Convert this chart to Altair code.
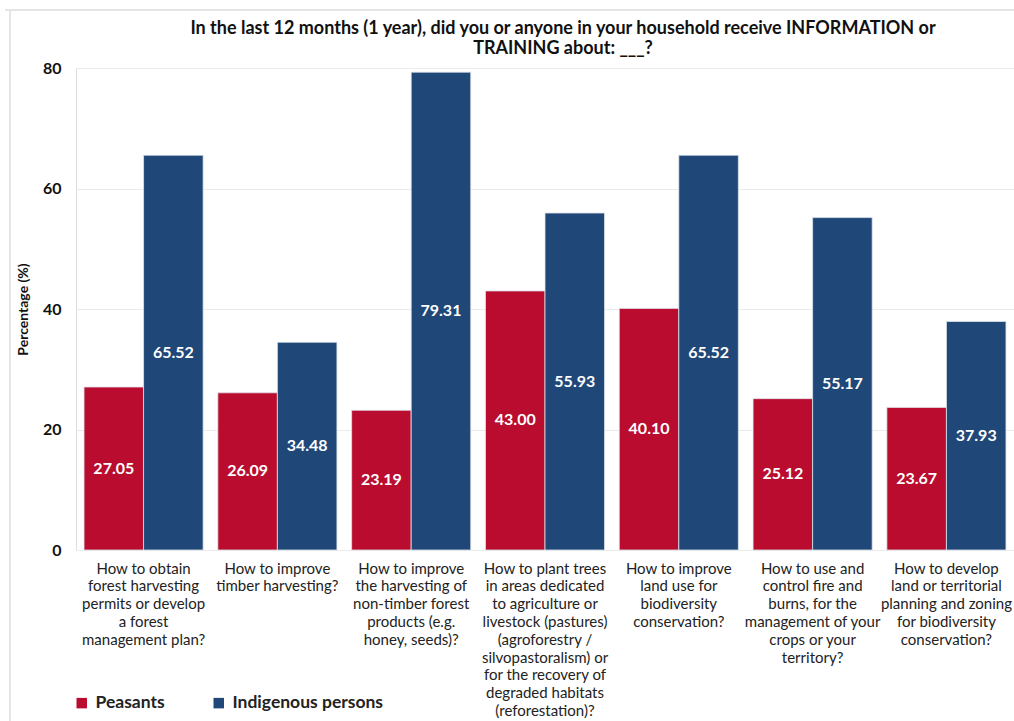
import altair as alt
import pandas as pd

categories = [
    "How to obtain\nforest harvesting\npermits or develop\na forest\nmanagement plan?",
    "How to improve\ntimber harvesting?",
    "How to improve\nthe harvesting of\nnon-timber forest\nproducts (e.g.\nhoney, seeds)?",
    "How to plant trees\nin areas dedicated\nto agriculture or\nlivestock (pastures)\n(agroforestry /\nsilvopastoralism) or\nfor the recovery of\ndegraded habitats\n(reforestation)?",
    "How to improve\nland use for\nbiodiversity\nconservation?",
    "How to use and\ncontrol fire and\nburns, for the\nmanagement of your\ncrops or your\nterritory?",
    "How to develop\nland or territorial\nplanning and zoning\nfor biodiversity\nconservation?",
]
series = ["Peasants", "Indigenous persons"]
peasants = [27.05, 26.09, 23.19, 43.00, 40.10, 25.12, 23.67]
indigenous = [65.52, 34.48, 79.31, 55.93, 65.52, 55.17, 37.93]
colors = ["#BA0C2F", "#1F4778"]

rows = []
for i, c in enumerate(categories):
    rows.append({"cat": c, "series": series[0], "value": peasants[i], "order": 0})
    rows.append({"cat": c, "series": series[1], "value": indigenous[i], "order": 1})
df = pd.DataFrame(rows)

FONT = "Lato"

x = alt.X("cat:N", sort=categories, title=None,
          scale=alt.Scale(paddingInner=0.11, paddingOuter=0.06),
          axis=alt.Axis(labelExpr="split(datum.label, '\\n')", labelAngle=0,
                        labelAlign="center", labelBaseline="top",
                        labelFont=FONT, labelFontSize=15, labelColor="#222222",
                        labelLineHeight=17.8, labelPadding=11,
                        ticks=False, domain=False, labelLimit=200))
y = alt.Y("value:Q", title="Percentage (%)",
          scale=alt.Scale(domain=[0, 80]),
          axis=alt.Axis(values=[0, 20, 40, 60, 80], labelFont=FONT, labelFontSize=16,
                        labelFontWeight="bold", labelColor="#111111",
                        labelPadding=15, ticks=False, domain=False,
                        gridColor="#EBEBEB", gridWidth=1,
                        titleFont=FONT, titleFontSize=14, titleFontWeight="bold",
                        titleColor="#111111", titlePadding=12))
color = alt.Color("series:N", sort=series,
                  scale=alt.Scale(domain=series, range=colors),
                  legend=alt.Legend(title=None, orient="none", legendX=-3, legendY=626,
                                    direction="horizontal", symbolType="square",
                                    symbolSize=110, symbolStrokeWidth=0,
                                    labelFont=FONT, labelFontSize=17.5, labelFontWeight="bold",
                                    labelColor="#222222", columnPadding=45, labelOffset=5))
xoff = alt.XOffset("series:N", sort=series)

bars = alt.Chart(df).mark_bar(stroke="#DDE3EC", strokeWidth=0.8).encode(
    x=x, y=y, color=color, xOffset=xoff
)
labels = alt.Chart(df).transform_calculate(
    mid="datum.value / 2", txt="format(datum.value, '.2f')"
).mark_text(color="white", font=FONT, fontSize=16, fontWeight="bold",
            baseline="middle").encode(
    x=alt.X("cat:N", sort=categories),
    y=alt.Y("mid:Q"),
    xOffset=xoff,
    text="txt:N",
)

frame_top = alt.Chart(df).mark_rule(color="#E4E4E4", strokeWidth=1).encode(
    x=alt.value(-71), x2=alt.value(940), y=alt.value(-58)
)
frame_left = alt.Chart(df).mark_rule(color="#E4E4E4", strokeWidth=1).encode(
    x=alt.value(-66), y=alt.value(-58), y2=alt.value(660)
)

chart = alt.layer(frame_top, frame_left, bars, labels).properties(
    width=938, height=482,
    title=alt.TitleParams(
        ["In the last 12 months (1 year), did you or anyone in your household receive INFORMATION or",
         "TRAINING about: ___?"],
        font=FONT, fontSize=18, fontWeight="bold", color="#111111",
        anchor="middle", dx=18, offset=-48, lineHeight=20),
    autosize=alt.AutoSizeParams(type="none"),
    padding={"left": 76, "top": 68, "right": 0, "bottom": 171},
).configure_view(stroke=None).configure(background="white")

chart.save("out.html", embed_options={"renderer": "svg", "actions": False})
